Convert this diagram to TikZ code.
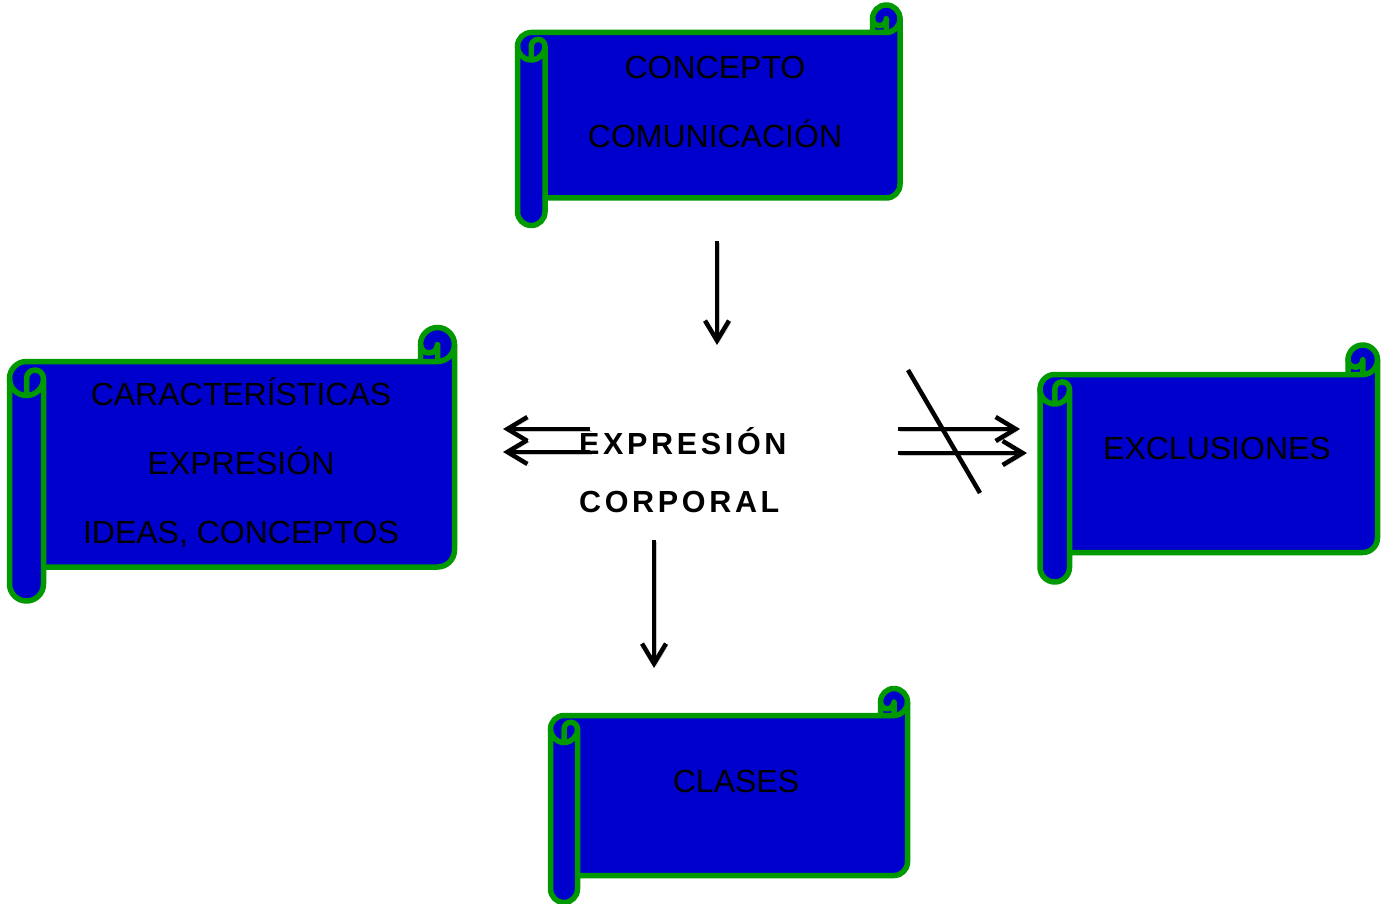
\documentclass[tikz,border=0pt]{standalone}
\usepackage{fontspec}
\setmainfont{Liberation Sans}
\newfontfamily\spacedfont[LetterSpace=12]{Liberation Sans}
\usetikzlibrary{arrows.meta}
\definecolor{scrollblue}{RGB}{0,0,204}
\definecolor{scrollgreen}{RGB}{0,153,0}
\tikzset{
  scrollbody/.style={fill=scrollblue, draw=scrollgreen, line width=5.5pt, line join=round},
  scrollline/.style={draw=scrollgreen, line width=5.5pt, line join=round, line cap=round},
  scrolltext/.style={font=\fontsize{32}{38}\selectfont, text=black, inner sep=0pt, anchor=base},
  centertext/.style={font=\spacedfont\bfseries\fontsize{30.5}{36}\selectfont, text=black, inner sep=0pt, anchor=base west},
  conn/.style={draw=black, line width=4.5pt, -{Straight Barb[length=20pt,width=24pt]},
    preaction={draw=black!22, transform canvas={shift={(2,2)}}}},
  slash/.style={draw=black, line width=4.5pt,
    preaction={draw=black!22, transform canvas={shift={(2,2)}}}}
}
\newcommand{\drawscroll}[5]{%
 \pgfmathsetmacro\scL{#1}%
 \pgfmathsetmacro\scT{#2}%
 \pgfmathsetmacro\scR{#3}%
 \pgfmathsetmacro\scB{#4}%
 \pgfmathsetmacro\scC{#5}%
 \pgfmathsetmacro\scH{#5/2}%
 \pgfmathsetmacro\scQ{#5/4}%
 \pgfmathsetmacro\scYthree{\scT+\scC+\scH}%
 \pgfmathsetmacro\scYfour{\scT+2*\scC}%
 \pgfmathsetmacro\scYfive{\scB-\scC-\scH}%
 \pgfmathsetmacro\scYsix{\scB-\scC}%
 \pgfmathsetmacro\scYseven{\scB-\scH}%
 \pgfmathsetmacro\scXthree{\scR-\scC}%
 \pgfmathsetmacro\scXfour{\scR-\scH}%
 \pgfmathsetmacro\scTC{\scT+\scC}%
 \pgfmathsetmacro\scTH{\scT+\scH}%
 \pgfmathsetmacro\scLC{\scL+\scC}%
 \pgfmathsetmacro\scLH{\scL+\scH}%
 \path[scrollbody] (\scL,\scYthree) arc[start angle=180,end angle=270,radius=\scH]
   -- (\scXthree,\scTC) -- (\scXthree,\scTH) arc[start angle=180,end angle=360,radius=\scH]
   -- (\scR,\scYfive) arc[start angle=0,end angle=90,radius=\scH]
   -- (\scLC,\scYsix) -- (\scLC,\scYseven) arc[start angle=0,end angle=180,radius=\scH] -- cycle;
 \draw[scrollline] (\scXthree,\scTC) -- (\scXfour,\scTC) arc[start angle=90,end angle=0,radius=\scH]
   (\scXfour,\scTC) -- (\scXfour,\scTH) arc[start angle=0,end angle=180,radius=\scQ]
   (\scLH,\scYfour) -- (\scLH,\scYthree) arc[start angle=180,end angle=360,radius=\scQ]
      arc[start angle=0,end angle=180,radius=\scH]
   (\scLC,\scYthree) -- (\scLC,\scYsix);
}
\begin{document}
\begin{tikzpicture}[x=1pt,y=-1pt]
\useasboundingbox[fill=white] (0,0) rectangle (1384,904);
% scrolls
\drawscroll{517.5}{5}{900}{225.5}{27.5}
\drawscroll{9.5}{327.5}{454.5}{601}{34}
\drawscroll{1040}{345}{1377.5}{582}{29.5}
\drawscroll{550.5}{688.5}{907.5}{902.5}{27}
% scroll texts
\node[scrolltext] (concepto) at (715,79) {CONCEPTO};
\node[scrolltext] (comunicacion) at (715,148) {COMUNICACIÓN};
\node[scrolltext] (caracteristicas) at (241,405) {CARACTERÍSTICAS};
\node[scrolltext] (expresionl) at (241,474) {EXPRESIÓN};
\node[scrolltext] (ideas) at (241,543) {IDEAS, CONCEPTOS};
\node[scrolltext] (exclusiones) at (1217,459) {EXCLUSIONES};
\node[scrolltext] (clases) at (736,792) {CLASES};
% connector end points
\coordinate (topS) at (717,241);
\coordinate (topE) at (717,345);
\coordinate (botS) at (654,540);
\coordinate (botE) at (654,668);
\coordinate (lAS) at (590,429);
\coordinate (lAE) at (503,429);
\coordinate (lBS) at (590,452);
\coordinate (lBE) at (503,452);
\coordinate (rAS) at (898,429);
\coordinate (rAE) at (1020,429);
\coordinate (rBS) at (898,453);
\coordinate (rBE) at (1027,453);
\coordinate (slS) at (908,370);
\coordinate (slE) at (980,493);
\draw[conn] (topS) -- (topE);
\draw[conn] (botS) -- (botE);
\draw[conn] (lAS) -- (lAE);
\draw[conn] (lBS) -- (lBE);
\draw[conn] (rAS) -- (rAE);
\draw[conn] (rBS) -- (rBE);
\draw[slash] (slS) -- (slE);
% central text
\node[centertext] (expresion) at (579,454) {EXPRESIÓN};
\node[centertext] (corporal) at (579,512) {CORPORAL};
\end{tikzpicture}
\end{document}
